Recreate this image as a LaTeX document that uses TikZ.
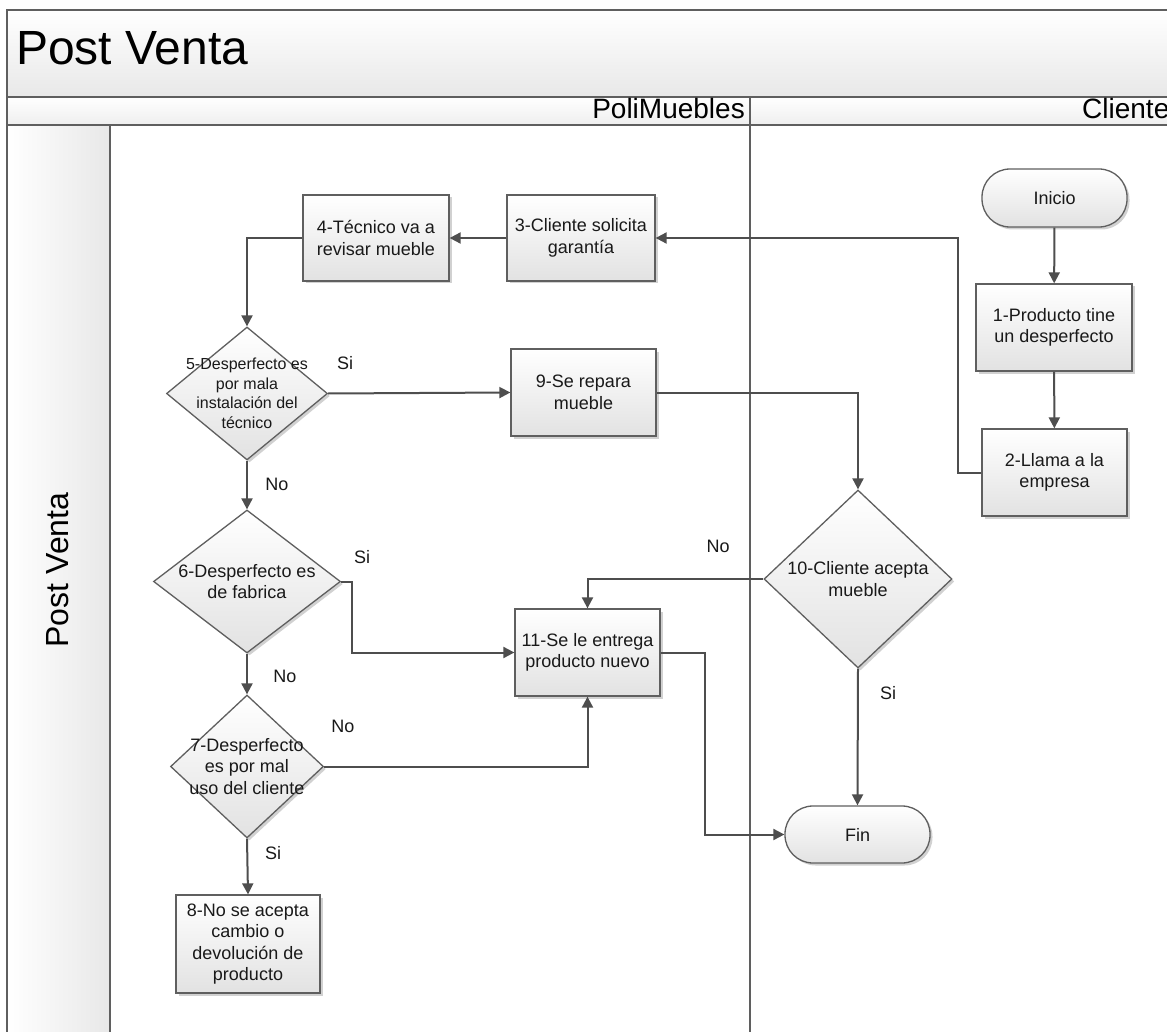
\documentclass[tikz,border=0pt]{standalone}
\usepackage{fontspec}
\setmainfont{Liberation Sans}
\usetikzlibrary{shapes.geometric,arrows.meta,shadows}

\definecolor{edgegray}{RGB}{78,78,78}
\definecolor{framegray}{RGB}{95,95,95}
\definecolor{fillbot}{RGB}{226,226,226}
\definecolor{bandbot}{RGB}{232,232,232}

\begin{document}
\begin{tikzpicture}[x=1pt,y=-1pt,
  shade/.style={drop shadow={shadow xshift=2.5pt,shadow yshift=-2.5pt,fill=black,opacity=0.18}},
  stepbox/.style={draw=framegray, line width=1.3pt, top color=white, bottom color=fillbot,
    shade, align=center, inner sep=0pt, text=black!90,
    font=\fontsize{18}{21.6}\selectfont},
  decision/.style={diamond, draw=framegray, line width=1.3pt, top color=white, bottom color=fillbot,
    shade, inner sep=0pt},
  dtext/.style={align=center, inner sep=0pt, text=black!90, font=\fontsize{18}{21.6}\selectfont},
  terminal/.style={stepbox, rounded corners=28pt},
  arr/.style={draw=edgegray, line width=2pt, -{Triangle[length=11pt,width=11pt]}},
  lbl/.style={font=\fontsize{18}{18}\selectfont, text=black!90, inner sep=0pt},
  band/.style={draw=framegray, line width=1.3pt}
]
\useasboundingbox (0,0) rectangle (1167,1032);
\clip (0,0) rectangle (1167,1032);

% pool frame: title band, lane header band, side band and lanes
\path[band, top color=white, bottom color=bandbot] (7,10) rectangle (1200,97);
\path[band, top color=white, bottom color=bandbot!70!white] (7,97) rectangle (1200,125);
\path[band, left color=white, right color=bandbot] (7,125) rectangle (110,1060);
\path[band, fill=white] (110,125) rectangle (1200,1060);
\draw[band] (750,97) -- (750,1060);

\node[anchor=base west, inner sep=0pt, font=\fontsize{48}{48}\selectfont] (title) at (16,65) {Post Venta};
\node[anchor=base east, inner sep=0pt, font=\fontsize{28}{28}\selectfont] (lane1) at (745,119) {PoliMuebles};
\node[anchor=base west, inner sep=0pt, font=\fontsize{28}{28}\selectfont] (lane2) at (1082,119) {Cliente};
\node[rotate=90, inner sep=0pt, font=\fontsize{32}{32}\selectfont] (side) at (58,570) {Post Venta};

% Cliente lane
\node[terminal, minimum width=145pt, minimum height=58pt] (ini) at (1054.5,198) {Inicio};
\node[stepbox, minimum width=156pt, minimum height=87pt] (b1) at (1054,327.5) {1-Producto tine\\un desperfecto};
\node[stepbox, minimum width=145pt, minimum height=87pt] (b2) at (1054.5,472.5) {2-Llama a la\\empresa};
\node[decision, minimum width=188pt, minimum height=178pt] (d10) at (858,579) {};
\node[dtext] (t10) at (d10.center) {10-Cliente acepta\\mueble};
\node[terminal, minimum width=145pt, minimum height=57pt] (fin) at (857.5,834.5) {Fin};

% PoliMuebles lane
\node[stepbox, minimum width=148pt, minimum height=86pt] (b3) at (581,238) {3-Cliente solicita\\garantía};
\node[stepbox, minimum width=146pt, minimum height=86pt] (b4) at (376,238) {4-Técnico va a\\revisar mueble};
\node[decision, minimum width=161pt, minimum height=133pt] (d5) at (247,393.5) {};
\node[dtext, font=\fontsize{16}{19.5}\selectfont] (t5) at (d5.center) {5-Desperfecto es\\por mala\\instalación del\\técnico};
\node[stepbox, minimum width=145pt, minimum height=87pt] (b9) at (583.5,392.5) {9-Se repara\\mueble};
\node[decision, minimum width=187pt, minimum height=143pt] (d6) at (247,581.5) {};
\node[dtext] (t6) at (d6.center) {6-Desperfecto es\\de fabrica};
\node[decision, minimum width=153pt, minimum height=143pt] (d7) at (247,766.5) {};
\node[dtext] (t7) at (d7.center) {7-Desperfecto\\es por mal\\uso del cliente};
\node[stepbox, minimum width=145pt, minimum height=87pt] (b11) at (587.5,652.5) {11-Se le entrega\\producto nuevo};
\node[stepbox, minimum width=144pt, minimum height=98pt] (b8) at (248,944) {8-No se acepta\\cambio o\\devolución de\\producto};

% connectors
\draw[arr] (ini) -- (b1);
\draw[arr] (b1) -- (b2);
\draw[arr] (b2.west) -- ++(-23,0) |- (b3.east);
\draw[arr] (b3) -- (b4);
\draw[arr] (b4.west) -| (d5.north);
\draw[arr] (d5.east) -- (b9.west);
\draw[arr] (b9.east) -| (d10.north);
\draw[arr] (d10.west) -| (b11.north);
\draw[arr] (d10.south) -- (fin.north);
\draw[arr] (d5.south) -- (d6.north);
\draw[arr] (d6.east) -- ++(11,0) |- (b11.west);
\draw[arr] (d6.south) -- (d7.north);
\draw[arr] (d7.east) -| (b11.south);
\draw[arr] (d7.south) -- (b8.north);
\draw[arr] (b11.east) -- ++(44,0) |- (fin.west);

% branch labels
\node[lbl] (l5si) at (345,363) {Si};
\node[lbl] (l5no) at (277,484) {No};
\node[lbl] (l6si) at (362,557) {Si};
\node[lbl] (l6no) at (285,676) {No};
\node[lbl] (l7no) at (343,726) {No};
\node[lbl] (l7si) at (273,853) {Si};
\node[lbl] (l10no) at (718,546) {No};
\node[lbl] (l10si) at (888,693) {Si};
\end{tikzpicture}
\end{document}
